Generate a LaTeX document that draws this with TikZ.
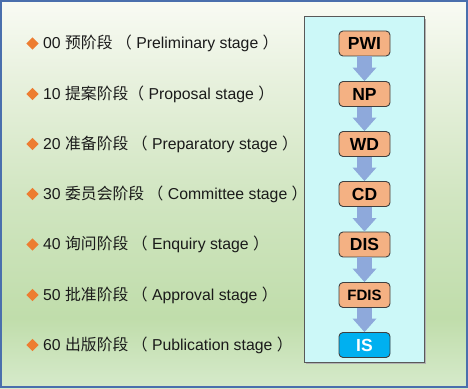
\documentclass[tikz,border=0pt]{standalone}
\usepackage{fontspec}
\setmainfont{Liberation Sans}
\newfontfamily\cjk{Noto Sans CJK SC}
\usetikzlibrary{arrows.meta,shapes.geometric}

\definecolor{framec}{HTML}{4A6FAD}
\definecolor{bgtop}{HTML}{F9FBF4}
\definecolor{bgup}{HTML}{E8F1DE}
\definecolor{bgmid}{HTML}{D0E5C0}
\definecolor{bglow}{HTML}{C0DDAB}
\definecolor{bgbot}{HTML}{D6EACB}
\definecolor{panelc}{HTML}{CCF8F8}
\definecolor{stagec}{HTML}{F4B183}
\definecolor{isc}{HTML}{00B0F0}
\definecolor{flowc}{HTML}{8EA9DB}
\definecolor{markc}{HTML}{ED7D31}
\definecolor{textc}{HTML}{1A1A1A}

\pgfdeclareverticalshading{bgshade}{100bp}{color(0bp)=(bgbot); color(25bp)=(bgbot); color(34bp)=(bglow); color(49bp)=(bgmid); color(65bp)=(bgup); color(75bp)=(bgtop); color(100bp)=(bgtop)}

\begin{document}
\begin{tikzpicture}[
	t/.style = {anchor=west, inner sep=0, text=textc, font=\fontsize{15.8}{16}\selectfont},
	d/.style = {diamond, fill=markc, inner sep=0, minimum size=12.5pt},
	s/.style = {rectangle, rounded corners=4pt, draw=black!75, line width=0.9pt, fill=stagec, minimum width=51pt, minimum height=25pt, inner sep=0, font=\fontsize{17.5}{18}\selectfont\bfseries},
	a/.style = {draw=flowc, line width=15pt, -{Triangle[length=13.5pt, width=24pt, line width=0pt]}}
	]
	
	% ===== ===== ===== ===== =====
	
	% Background
	\useasboundingbox (0, 0) rectangle (468pt, 388pt);
	\shade[shading=bgshade] (0, 0) rectangle (468pt, 388pt);
	\draw[draw=framec, line width=2pt] (1pt, 1pt) rectangle (467pt, 387pt);
	\fill[black!30] (306pt, 24.5pt) rectangle (425.5pt, 369pt);
	\draw[draw=black!65, line width=1pt, fill=panelc] (304pt, 26pt) rectangle (424pt, 371pt);
	
	% ===== ===== ===== ===== =====
	
	% Nodes
	\node[d]	(d0)	at	(32.5pt, 344.5pt)	{};
	\node[d]	(d1)	at	(32.5pt, 294pt)		{};
	\node[d]	(d2)	at	(32.5pt, 244pt)		{};
	\node[d]	(d3)	at	(32.5pt, 194pt)		{};
	\node[d]	(d4)	at	(32.5pt, 143.5pt)	{};
	\node[d]	(d5)	at	(32.5pt, 93pt)		{};
	\node[d]	(d6)	at	(32.5pt, 43pt)		{};
	
	\node[t]	(t0)	at	(43pt, 344.5pt)	{00 {\cjk 预阶段 （} Preliminary stage {\cjk ）}};
	\node[t]	(t1)	at	(43pt, 294pt)	{10 {\cjk 提案阶段（} Proposal stage {\cjk ）}};
	\node[t]	(t2)	at	(43pt, 244pt)	{20 {\cjk 准备阶段 （} Preparatory stage {\cjk ）}};
	\node[t]	(t3)	at	(43pt, 194pt)	{30 {\cjk 委员会阶段 （} Committee stage {\cjk ）}};
	\node[t]	(t4)	at	(43pt, 143.5pt)	{40 {\cjk 询问阶段 （} Enquiry stage {\cjk ）}};
	\node[t]	(t5)	at	(43pt, 93pt)	{50 {\cjk 批准阶段 （} Approval stage {\cjk ）}};
	\node[t]	(t6)	at	(43pt, 43pt)	{60 {\cjk 出版阶段 （} Publication stage {\cjk ）}};
	
	\node[s]	(pwi)	at	(364.5pt, 344.5pt)	{PWI};
	\node[s]	(np)	at	(364.5pt, 294pt)	{NP};
	\node[s]	(wd)	at	(364.5pt, 244pt)	{WD};
	\node[s]	(cd)	at	(364.5pt, 194pt)	{CD};
	\node[s]	(dis)	at	(364.5pt, 143.5pt)	{DIS};
	\node[s, font=\fontsize{15}{16}\selectfont\bfseries]	(fdis)	at	(364.5pt, 93pt)	{FDIS};
	\node[s, fill=isc, text=white]	(is)	at	(364.5pt, 43pt)	{IS};
	
	% Lines
	\draw[a]	(pwi)	--	(np);
	\draw[a]	(np)	--	(wd);
	\draw[a]	(wd)	--	(cd);
	\draw[a]	(cd)	--	(dis);
	\draw[a]	(dis)	--	(fdis);
	\draw[a]	(fdis)	--	(is);
	
\end{tikzpicture}
\end{document}
